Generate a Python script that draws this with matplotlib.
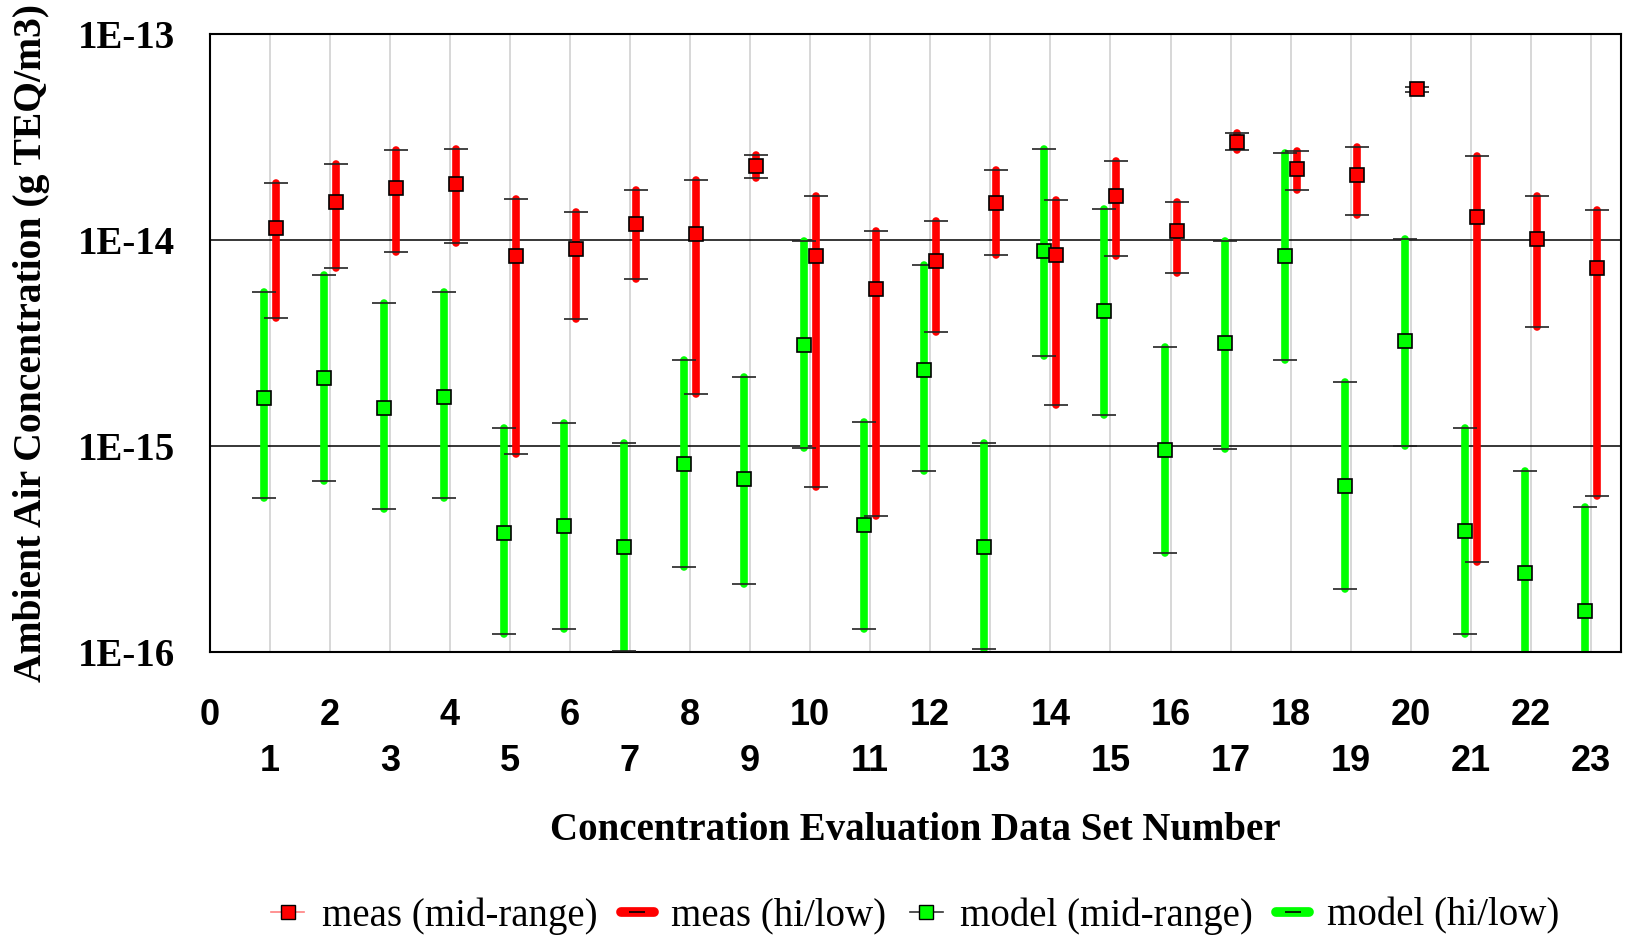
import numpy as np
import matplotlib
matplotlib.use('Agg')
import matplotlib.pyplot as plt
from matplotlib.lines import Line2D

# data set numbers and concentrations (g TEQ/m3)
sets = list(range(1, 24))
meas_mid = [1.15e-14, 1.53e-14, 1.79e-14, 1.86e-14, 8.4e-15, 9.0e-15, 1.20e-14, 1.07e-14,
            2.29e-14, 8.4e-15, 5.8e-15, 7.9e-15, 1.51e-14, 8.5e-15, 1.63e-14, 1.11e-14,
            3.0e-14, 2.21e-14, 2.07e-14, 5.4e-14, 1.29e-14, 1.01e-14, 7.3e-15]
meas_hi = [1.89e-14, 2.34e-14, 2.72e-14, 2.75e-14, 1.59e-14, 1.37e-14, 1.75e-14, 1.95e-14,
           2.6e-14, 1.63e-14, 1.11e-14, 1.24e-14, 2.19e-14, 1.56e-14, 2.43e-14, 1.53e-14,
           3.3e-14, 2.69e-14, 2.83e-14, 5.52e-14, 2.56e-14, 1.63e-14, 1.4e-14]
meas_lo = [4.2e-15, 7.3e-15, 8.7e-15, 9.7e-15, 9.1e-16, 4.15e-15, 6.5e-15, 1.78e-15,
           2.0e-14, 6.35e-16, 4.55e-16, 3.56e-15, 8.5e-15, 1.58e-15, 8.4e-15, 6.95e-15,
           2.72e-14, 1.74e-14, 1.32e-14, 5.25e-14, 2.74e-16, 3.77e-15, 5.7e-16]
model_mid = [1.72e-15, 2.15e-15, 1.53e-15, 1.73e-15, 3.8e-16, 4.1e-16, 3.24e-16, 8.2e-16,
             6.9e-16, 3.1e-15, 4.14e-16, 2.35e-15, 3.24e-16, 8.85e-15, 4.53e-15, 9.6e-16,
             3.15e-15, 8.4e-15, 6.4e-16, 3.23e-15, 3.85e-16, 2.42e-16, 1.59e-16]
model_hi = [5.6e-15, 6.8e-15, 4.95e-15, 5.6e-15, 1.22e-15, 1.29e-15, 1.03e-15, 2.62e-15,
            2.16e-15, 9.9e-15, 1.31e-15, 7.6e-15, 1.03e-15, 2.77e-14, 1.42e-14, 3.04e-15,
            9.9e-15, 2.64e-14, 2.05e-15, 1.01e-14, 1.23e-15, 7.55e-16, 5.08e-16]
model_lo = [5.6e-16, 6.8e-16, 4.94e-16, 5.6e-16, 1.22e-16, 1.29e-16, 1.01e-16, 2.58e-16,
            2.15e-16, 9.8e-16, 1.29e-16, 7.55e-16, 1.03e-16, 2.75e-15, 1.42e-15, 3.02e-16,
            9.7e-16, 2.63e-15, 2.03e-16, 1.0e-15, 1.22e-16, 7.6e-17, 5.0e-17]
ytick_vals = [1e-16, 1e-15, 1e-14, 1e-13]
ytick_labels = ['1E-16', '1E-15', '1E-14', '1E-13']

RED = '#ff0000'
GREEN = '#00ff00'
serif = 'Liberation Serif'
sans = 'Liberation Sans'

fig = plt.figure(figsize=(16.27, 9.39), dpi=100)
ax = fig.add_axes([0.1288, 0.3056, 0.8675, 0.6582])
ax.set_yscale('log')
ax.set_xlim(0, 23.5)
ax.set_ylim(1e-16, 1e-13)

x = np.array(sets, dtype=float)
xm = x - 0.1   # model slightly left
xr = x + 0.1   # measured slightly right

# grid lines
for v in sets:
    ax.axvline(v, color='#d4d4d4', lw=1.3, zorder=0)
for v in [1e-15, 1e-14]:
    ax.axhline(v, color='black', lw=1.1, zorder=0.5)

# hi/low bars
ax.vlines(xm, model_lo, model_hi, colors=GREEN, lw=5.5, capstyle='round', zorder=2)
ax.vlines(xr, meas_lo, meas_hi, colors=RED, lw=5.5, capstyle='round', zorder=2)
for xx, lo, hi in [(xm, model_lo, model_hi), (xr, meas_lo, meas_hi)]:
    ax.plot(xx, lo, ls='none', marker='_', ms=17, mew=1.2, color='#222222', zorder=3)
    ax.plot(xx, hi, ls='none', marker='_', ms=17, mew=1.2, color='#222222', zorder=3)

# mid-range markers
ax.plot(xm, model_mid, ls='none', marker='s', ms=10.5, mfc=GREEN, mec='black', mew=1.2, zorder=4)
ax.plot(xr, meas_mid, ls='none', marker='s', ms=10.5, mfc=RED, mec='black', mew=1.2, zorder=4)

# axes styling
for s in ax.spines.values():
    s.set_linewidth(1.5)
ax.set_yticks(ytick_vals)
ax.set_yticklabels(ytick_labels, fontfamily=serif, fontweight='bold', fontsize=28)
ax.yaxis.set_minor_locator(matplotlib.ticker.NullLocator())
ax.tick_params(axis='y', length=0, pad=25)

ax.set_xticks(range(0, 23, 2))
ax.set_xticklabels([str(v) for v in range(0, 23, 2)], fontfamily=sans, fontweight='bold', fontsize=26)
ax.set_xticks(range(1, 24, 2), minor=True)
ax.set_xticklabels([str(v) for v in range(1, 24, 2)], minor=True, fontfamily=sans,
                   fontweight='bold', fontsize=26)
ax.tick_params(axis='x', which='major', length=0, pad=33)
ax.tick_params(axis='x', which='minor', length=0, pad=66)

ax.set_ylabel('Ambient Air Concentration (g TEQ/m3)', fontfamily=serif, fontweight='bold',
              fontsize=28.5, labelpad=20)
ax.set_xlabel('Concentration Evaluation Data Set Number', fontfamily=serif, fontweight='bold',
              fontsize=28, labelpad=24)

handles = [
    Line2D([], [], color='#ff8080', lw=1.2, marker='s', ms=10.5, mfc=RED, mec='black', mew=1.0),
    Line2D([], [], color=RED, lw=7, solid_capstyle='round', marker='_', ms=12, mec='black', mew=1.2),
    Line2D([], [], color='#333333', lw=1.2, marker='s', ms=10.5, mfc=GREEN, mec='black', mew=1.0),
    Line2D([], [], color=GREEN, lw=7, solid_capstyle='round', marker='_', ms=12, mec='black', mew=1.2),
]
labels = ['meas (mid-range)', 'meas (hi/low)', 'model (mid-range)', 'model (hi/low)']
fig.legend(handles, labels, loc='center', bbox_to_anchor=(0.5625, 0.0245), ncol=4,
           frameon=False, prop={'family': serif, 'size': 28}, handlelength=0.85,
           handletextpad=0.45, columnspacing=0.6, numpoints=1)

fig.savefig('out.png', dpi=100)
